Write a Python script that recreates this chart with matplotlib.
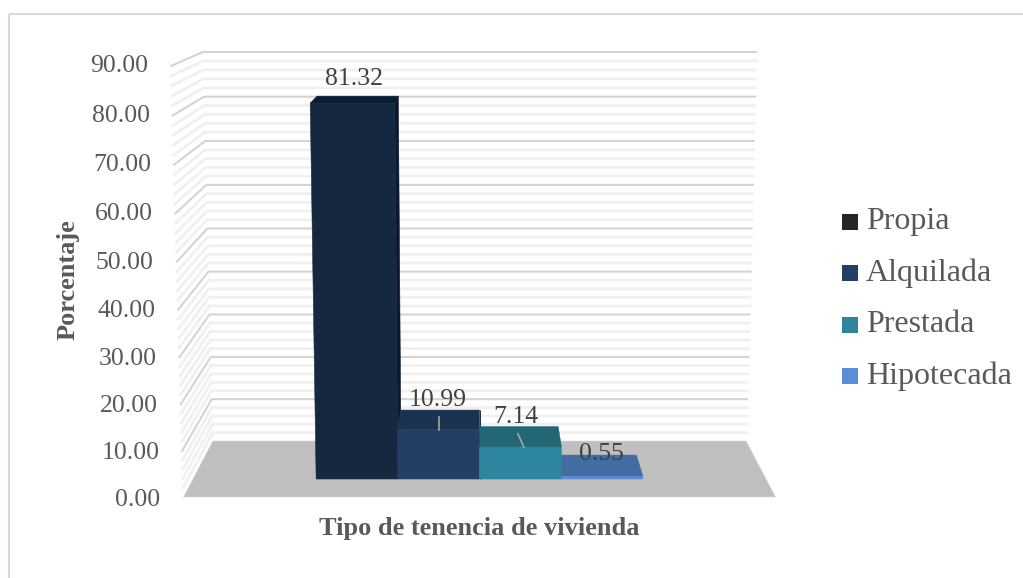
import matplotlib
matplotlib.use('Agg')
import matplotlib.pyplot as plt
from matplotlib.patches import Polygon, Rectangle
import numpy as np

CATEGORIAS  = ["Propia", "Alquilada", "Prestada", "Hipotecada"]
PORCENTAJES = [81.32, 10.99, 7.14, 0.55]
ETIQUETAS   = ["81.32", "10.99", "7.14", "0.55"]
TICKS       = [0, 10, 20, 30, 40, 50, 60, 70, 80, 90]

COLOR_FRENTE  = ["#152840", "#233f63", "#2e869e", "#5a8ed8"]
COLOR_TECHO   = ["#0c1c33", "#1c3350", "#236674", "#416da3"]
COLOR_LADO    = ["#0a1830", "#1c3350", "#236674", "#416da3"]
COLOR_LEYENDA = ["#262626", "#233f63", "#2e869e", "#5a8ed8"]
GRIS_TEXTO    = "#595959"
SERIF         = "Liberation Serif"

# Camara de la vista 3D: centro, semiancho, altura y fuga
CENTRO_X, SEMI_ANCHO = 479.5, 296.0
Y_BASE, Y_POR_VALOR, Y_POR_FONDO = 497.0, -4.82, -7.5
FUGA_VALOR, FUGA_FONDO = -0.04 / 90, 0.11

# Extension de las barras en ancho y en fondo
BARRA_X0, BARRA_ANCHO = -0.57, 0.285
FONDO_FRENTE, FONDO_ATRAS = 0.299, 0.684


def proyectar(x, valor, fondo):
    """Pasa (x, valor, fondo) de la escena a pixeles de la figura."""
    w = 1 + FUGA_VALOR * valor + FUGA_FONDO * fondo
    return (CENTRO_X + SEMI_ANCHO * x / w,
            (Y_BASE + Y_POR_VALOR * valor + Y_POR_FONDO * fondo) / w)


def cara(ax, esquinas, color, z, borde=None):
    puntos = [proyectar(*e) for e in esquinas]
    ax.add_patch(Polygon(puntos, closed=True, facecolor=color, edgecolor=borde or color, lw=0.4, zorder=z))


fig = plt.figure(figsize=(10.23, 5.78), dpi=100)
ax = fig.add_axes([0, 0, 1, 1])
ax.set_xlim(0, 1023)
ax.set_ylim(578, 0)
ax.axis('off')

# Marco exterior
ax.add_patch(Rectangle((9, 14), 1100, 700, fill=False, edgecolor="#d9d9d9", lw=1.5, zorder=1))

# Rejilla de pared izquierda y pared del fondo
for v in np.arange(2, 90.5, 2):
    mayor = v % 10 == 0
    color = "#d4d4d4" if mayor else "#f0f0f0"
    lw = 1.5 if mayor else 2.0
    xs, ys = zip(proyectar(-1, v, 0), proyectar(-1, v, 1), proyectar(1, v, 1))
    ax.plot(xs, ys, color=color, lw=lw, solid_joinstyle='miter', zorder=2 if not mayor else 3)

# Piso
cara(ax, [(-1, 0, 0), (-1, 0, 1), (1, 0, 1), (1, 0, 0)], "#bfbfbf", 4, borde="#d9d9d9")

# Barras: lado, techo y frente. Las del centro tapan a las de los extremos
for i, valor in enumerate(PORCENTAJES):
    x0 = BARRA_X0 + i * BARRA_ANCHO
    x1 = x0 + BARRA_ANCHO
    z = 6 - abs(x0 + x1)
    if x1 <= 0:
        cara(ax, [(x1, 0, FONDO_FRENTE), (x1, 0, FONDO_ATRAS), (x1, valor, FONDO_ATRAS), (x1, valor, FONDO_FRENTE)],
             COLOR_LADO[i], z)
    cara(ax, [(x0, valor, FONDO_FRENTE), (x0, valor, FONDO_ATRAS), (x1, valor, FONDO_ATRAS), (x1, valor, FONDO_FRENTE)],
         COLOR_TECHO[i], z)
    cara(ax, [(x0, 0, FONDO_FRENTE), (x0, valor, FONDO_FRENTE), (x1, valor, FONDO_FRENTE), (x1, 0, FONDO_FRENTE)],
         COLOR_FRENTE[i], z + 0.05)

# Etiquetas del eje de valores
for v in TICKS:
    x, y = proyectar(-1, v, 0)
    ax.text(x - 23, y + 3 - v * 0.035, f"{v:.2f}", ha='right', va='center', family=SERIF, fontsize=18.5,
            color=GRIS_TEXTO, zorder=8)

# Etiquetas de datos, encima de cada barra
DESPLAZAMIENTO = [(-4, -17), (-2, -10), (-3, -10), (4, -1)]
for i, (valor, texto) in enumerate(zip(PORCENTAJES, ETIQUETAS)):
    x, y = proyectar(BARRA_X0 + (i + 0.5) * BARRA_ANCHO, valor, FONDO_ATRAS)
    dx, dy = DESPLAZAMIENTO[i]
    ax.text(x + dx, y + dy, texto, ha='center', va='center', family=SERIF, fontsize=18.5, color="#404040", zorder=9)

# Lineas guia de las dos etiquetas que quedan sobre su barra
for i, dx in [(1, 0), (2, 6)]:
    xm = BARRA_X0 + (i + 0.5) * BARRA_ANCHO
    xa, ya = proyectar(xm, PORCENTAJES[i], FONDO_ATRAS)
    xb, yb = proyectar(xm, PORCENTAJES[i], FONDO_FRENTE)
    ax.plot([xa - 1, xa - 1 + dx], [ya + 7, yb], color="#a6a6a6", lw=1.2, zorder=9)

# Titulos de los ejes
ax.text(68, 280, "Porcentaje", rotation=90, ha='center', va='center', family=SERIF, weight='bold',
        fontsize=19, color=GRIS_TEXTO)
ax.text(479.5, 528, "Tipo de tenencia de vivienda", ha='center', va='center', family=SERIF, weight='bold',
        fontsize=19, color=GRIS_TEXTO)

# Leyenda
for i, (nombre, color) in enumerate(zip(CATEGORIAS, COLOR_LEYENDA)):
    y = 222 + i * 51.3
    ax.add_patch(Rectangle((842, y - 8), 16, 16, facecolor=color, edgecolor='none'))
    ax.text(866, y, nombre, ha='left', va='center', family=SERIF, fontsize=23, color=GRIS_TEXTO)

plt.savefig("out.png", dpi=100)
plt.close(fig)
